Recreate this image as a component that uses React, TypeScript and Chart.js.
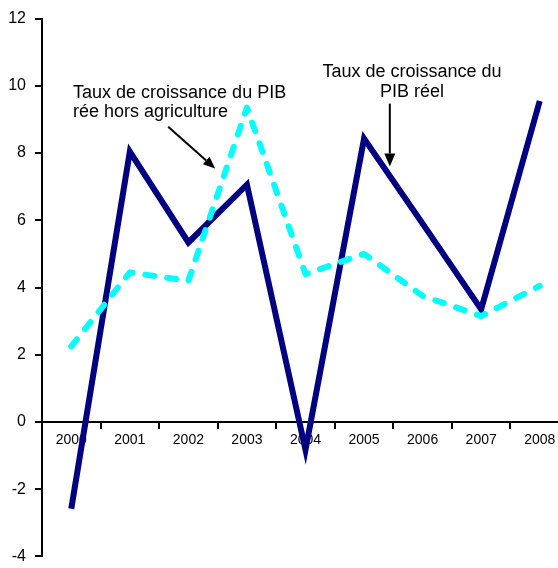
import React, { useEffect, useRef } from "react";
import { Chart, registerables } from "chart.js";

Chart.register(...registerables);

const years = ["2000", "2001", "2002", "2003", "2004", "2005", "2006", "2007", "2008"];
const pibReel = [-2.58, 8.04, 5.34, 7.06, -0.83, 8.43, 5.9, 3.35, 9.55];
const pibHorsAgri = [2.25, 4.45, 4.2, 9.35, 4.4, 5.0, 3.75, 3.15, 4.05];
const yTicks = { min: -4, max: 12, step: 2 };

const labelHorsAgri = ["Taux de croissance du PIB", "rée hors agriculture"];
const labelReel = ["Taux de croissance du", "PIB réel"];

const FONT = 'Arial, "Liberation Sans", sans-serif';

const annotationPlugin = {
  id: "annots",
  afterDatasetsDraw(chart: any) {
    const ctx = chart.ctx;
    const x = chart.scales.x;
    const y = chart.scales.y;
    const px = (i: number) => x.getPixelForValue(i);
    const py = (v: number) => y.getPixelForValue(v);

    ctx.save();
    ctx.fillStyle = "#000";
    ctx.font = `18px ${FONT}`;
    ctx.textBaseline = "alphabetic";
    ctx.textAlign = "left";
    ctx.fillText(labelHorsAgri[0], px(0.03), py(9.64));
    ctx.fillText(labelHorsAgri[1], px(0.03), py(9.08));
    ctx.textAlign = "center";
    ctx.fillText(labelReel[0], px(5.82), py(10.27));
    ctx.fillText(labelReel[1], px(5.82), py(9.67));

    const arrow = (x1: number, y1: number, x2: number, y2: number, head: number, hw: number) => {
      const ang = Math.atan2(y2 - y1, x2 - x1);
      const bx = x2 - head * Math.cos(ang);
      const by = y2 - head * Math.sin(ang);
      ctx.strokeStyle = "#000";
      ctx.lineWidth = 2;
      ctx.beginPath();
      ctx.moveTo(x1, y1);
      ctx.lineTo(bx, by);
      ctx.stroke();
      ctx.beginPath();
      ctx.moveTo(x2, y2);
      ctx.lineTo(bx + hw * Math.sin(ang), by - hw * Math.cos(ang));
      ctx.lineTo(bx - hw * Math.sin(ang), by + hw * Math.cos(ang));
      ctx.closePath();
      ctx.fill();
    };
    arrow(px(1.655), py(8.78), px(2.457), py(7.54), 12, 5);
    arrow(px(5.44), py(9.47), px(5.44), py(7.6), 13, 5.5);
    ctx.restore();
  },
};

export default function App() {
  const ref = useRef<HTMLCanvasElement | null>(null);
  useEffect(() => {
    if (!ref.current) return;
    const chart = new Chart(ref.current, {
      type: "line",
      data: {
        labels: years,
        datasets: [
          {
            label: "Taux de croissance du PIB rée hors agriculture",
            data: pibHorsAgri,
            borderColor: "#00FFFF",
            borderWidth: 6,
            borderDash: [9, 13],
            borderCapStyle: "round",
            borderJoinStyle: "round",
            pointRadius: 0,
            tension: 0,
            fill: false,
          },
          {
            label: "Taux de croissance du PIB réel",
            data: pibReel,
            borderColor: "#000080",
            borderWidth: 6,
            borderJoinStyle: "miter",
            pointRadius: 0,
            tension: 0,
            fill: false,
          },
        ],
      },
      options: {
        responsive: false,
        animation: false,
        layout: { padding: { top: 17, bottom: 5, left: 0, right: 0 } },
        plugins: { legend: { display: false }, tooltip: { enabled: false } },
        scales: {
          x: {
            position: { y: 0 } as any,
            offset: true,
            grid: {
              display: true,
              drawOnChartArea: false,
              offset: true,
              tickLength: 6,
              color: "#000",
              lineWidth: 2,
            },
            border: { display: true, color: "#000", width: 2 },
            ticks: {
              color: "#000",
              font: { family: FONT, size: 14 },
              padding: 4,
              maxRotation: 0,
              autoSkip: false,
            },
          },
          y: {
            min: yTicks.min,
            max: yTicks.max,
            afterFit: (s: any) => {
              s.width = 42;
            },
            grid: {
              display: true,
              drawOnChartArea: false,
              tickLength: 7,
              color: "#000",
              lineWidth: 2,
            },
            border: { display: true, color: "#000", width: 2 },
            ticks: {
              stepSize: yTicks.step,
              color: "#000",
              font: { family: FONT, size: 16 },
              padding: 9,
            },
          },
        },
      },
      plugins: [annotationPlugin],
    });
    return () => chart.destroy();
  }, []);
  return (
    <div style={{ position: "fixed", left: 0, top: 0, width: 558, height: 568, overflow: "hidden", background: "#fff" }}>
      <canvas ref={ref} width={569} height={575} style={{ display: "block" }} />
    </div>
  );
}
